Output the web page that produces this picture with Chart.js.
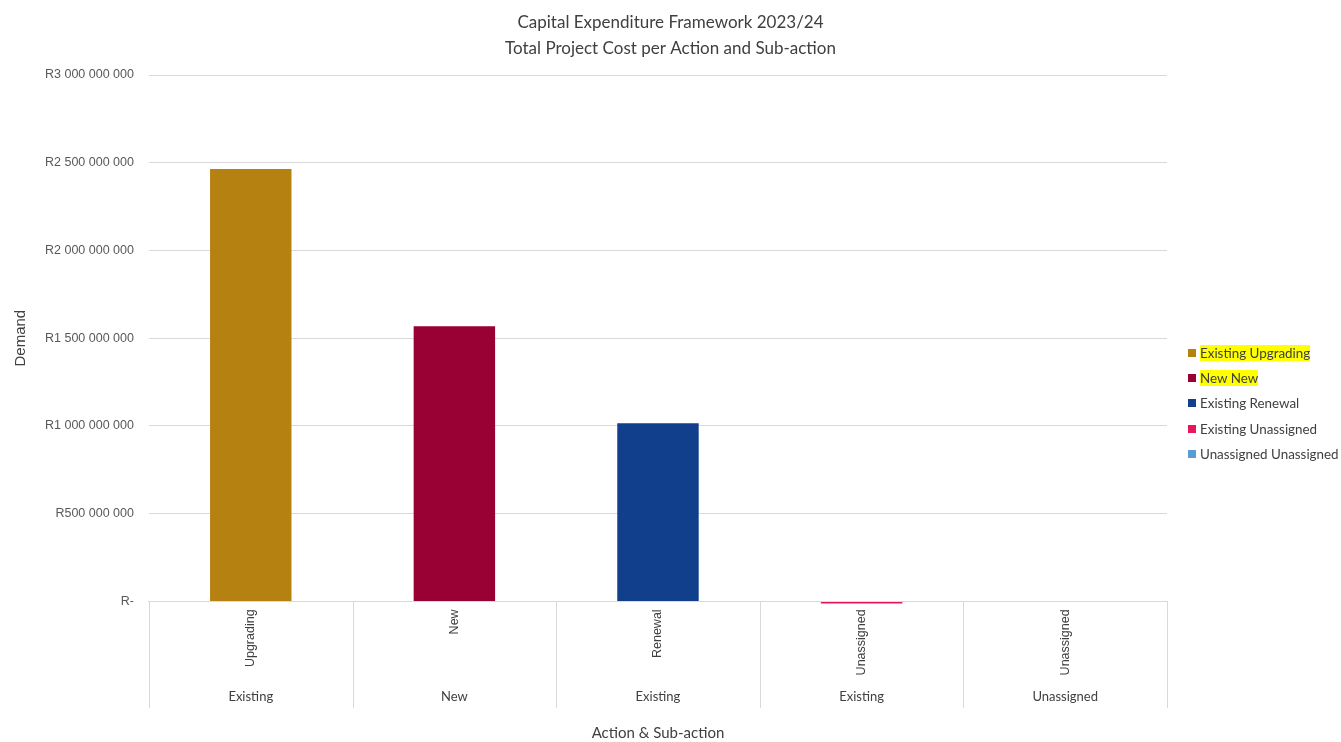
<!DOCTYPE html>
<html>
<head>
<meta charset="utf-8">
<title>Capital Expenditure Framework 2023/24</title>
<script src="https://cdn.jsdelivr.net/npm/chart.js@4"></script>
<style>
    body { margin: 0; background: #fff; }
    #wrap { position: relative; width: 1341px; height: 742px; }
    #legend { position: absolute; left: 1188px; top: 340px; font-family: Lato, sans-serif; font-size: 13.4px; color: #404040; }
    #legend .item { height: 25.3px; display: flex; align-items: center; white-space: nowrap; }
    #legend .box { width: 8px; height: 8px; margin-right: 4px; }
    #legend .hl { background: #ffff00; }
</style>
</head>
<body>
<div id="wrap">
    <canvas id="capex" width="1341" height="742"></canvas>
    <div id="legend"></div>
</div>
<script>
var subActions = ['Upgrading', 'New', 'Renewal', 'Unassigned', 'Unassigned'];
var actions = ['Existing', 'New', 'Existing', 'Existing', 'Unassigned'];

var seriesNames = ['Existing Upgrading', 'New New', 'Existing Renewal', 'Existing Unassigned', 'Unassigned Unassigned'];
var seriesColors = ['#b58212', '#990033', '#123f8c', '#e8175d', '#5b9bd5'];
var highlighted = [true, true, false, false, false];

var existingUpgrading = [2464000000, null, null, null, null];
var newNew = [null, 1568000000, null, null, null];
var existingRenewal = [null, null, 1015000000, null, null];
var existingUnassigned = [null, null, null, -12000000, null];
var unassignedUnassigned = [null, null, null, null, 0];

var yMin = 0;
var yMax = 3000000000;
var yStep = 500000000;

var xTitleFont = { family: 'Lato', size: 15 };
var xTitlePadding = { top: 13, bottom: 0 };

function rand(v) {
    if (v === 0) {
        return 'R-';
    }
    return 'R' + String(v).replace(/\B(?=(\d{3})+(?!\d))/g, ' ');
}

// vertical separators between the categories, under the axis line
var separators = {
    id: 'separators',
    afterDraw: function(chart) {
        var x = chart.scales.x;
        var x2 = chart.scales.x2;
        var ctx = chart.ctx;
        var n = subActions.length;
        var half = (x.getPixelForValue(1) - x.getPixelForValue(0)) / 2;
        var bottom = x2.bottom - (xTitleFont.size * 1.2 + xTitlePadding.top + xTitlePadding.bottom) - 3;
        ctx.save();
        ctx.strokeStyle = '#d9d9d9';
        ctx.lineWidth = 1;
        for (var i = 0; i <= n; i++) {
            var px = i < n ? x.getPixelForValue(i) - half : x.getPixelForValue(n - 1) + half;
            px = Math.round(px) + 0.5;
            ctx.beginPath();
            ctx.moveTo(px, x.top);
            ctx.lineTo(px, bottom);
            ctx.stroke();
        }
        ctx.restore();
    }
};

var values = [existingUpgrading, newNew, existingRenewal, existingUnassigned, unassignedUnassigned];
var datasets = [];
for (var i in seriesNames) {
    datasets.push({
        label: seriesNames[i],
        data: values[i],
        backgroundColor: seriesColors[i],
        borderWidth: 0,
        clip: false,
        categoryPercentage: 1,
        barPercentage: 0.4
    });
}

var context = document.getElementById('capex').getContext('2d');
var chart = new Chart(context, {
    type: 'bar',
    data: {
        labels: subActions,
        datasets: datasets
    },
    plugins: [separators],
    options: {
        responsive: false,
        animation: false,
        layout: {
            padding: 0
        },
        plugins: {
            legend: { display: false },
            tooltip: { enabled: false },
            title: {
                display: true,
                text: ['Capital Expenditure Framework 2023/24', 'Total Project Cost per Action and Sub-action'],
                color: '#404040',
                font: { family: 'Lato', size: 17, weight: 'normal', lineHeight: 1.5 },
                padding: { top: 10, bottom: 14 }
            }
        },
        scales: {
            y: {
                stacked: true,
                min: yMin,
                max: yMax,
                ticks: {
                    stepSize: yStep,
                    padding: 15,
                    color: '#595959',
                    font: { family: 'Liberation Sans', size: 12.5 },
                    callback: function(v) { return rand(v); }
                },
                grid: { color: '#d9d9d9', drawTicks: false },
                border: { display: false },
                title: {
                    display: true,
                    text: 'Demand',
                    color: '#404040',
                    font: { family: 'Liberation Sans', size: 15 },
                    padding: { top: 12, bottom: 0 }
                }
            },
            // empty right axis: keeps room for the legend
            yr: {
                position: 'right',
                grid: { display: false },
                border: { display: false },
                ticks: { display: false },
                afterFit: function(scale) { scale.width = 174; }
            },
            x: {
                stacked: true,
                offset: true,
                grid: { display: false, drawTicks: false },
                border: { color: '#d9d9d9' },
                ticks: {
                    minRotation: 90,
                    maxRotation: 90,
                    padding: 8,
                    color: '#404040',
                    font: { family: 'Liberation Sans', size: 12.5 }
                }
            },
            x2: {
                type: 'category',
                position: 'bottom',
                labels: actions,
                offset: true,
                grid: { display: false, drawTicks: false },
                border: { display: false },
                ticks: {
                    padding: 6,
                    color: '#404040',
                    font: { family: 'Lato', size: 13 }
                },
                title: {
                    display: true,
                    text: 'Action & Sub-action',
                    color: '#404040',
                    font: xTitleFont,
                    padding: xTitlePadding
                }
            }
        }
    }
});

var legend = document.getElementById('legend');
for (var j in seriesNames) {
    var item = document.createElement('div');
    item.className = 'item';
    var box = document.createElement('span');
    box.className = 'box';
    box.style.background = seriesColors[j];
    var text = document.createElement('span');
    text.textContent = seriesNames[j];
    if (highlighted[j]) {
        text.className = 'hl';
    }
    item.appendChild(box);
    item.appendChild(text);
    legend.appendChild(item);
}
</script>
</body>
</html>
